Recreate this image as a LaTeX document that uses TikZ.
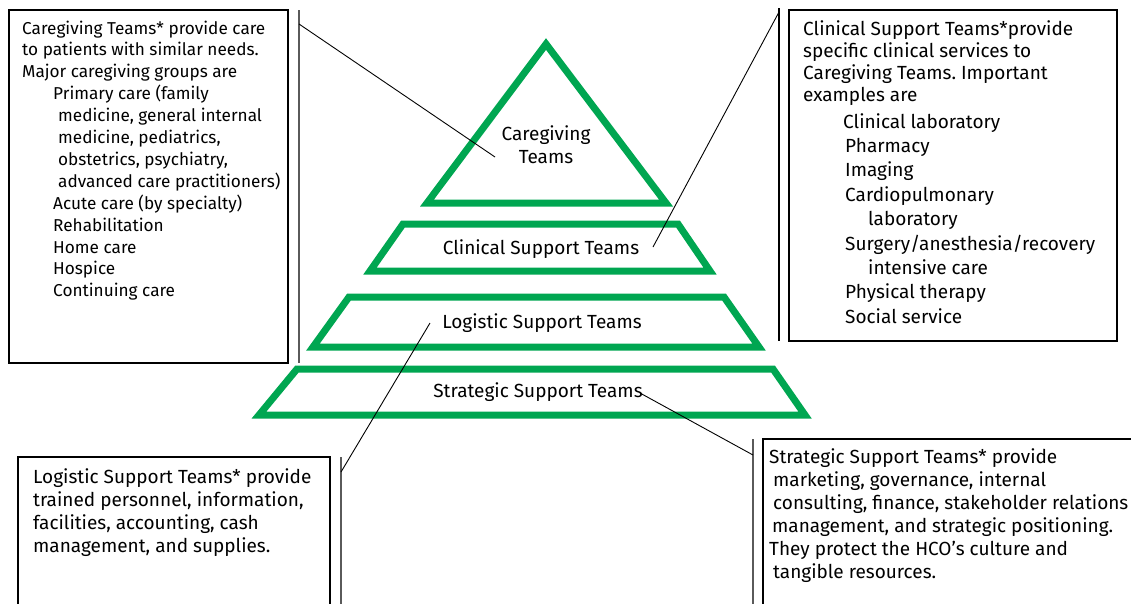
\documentclass[tikz,border=0pt]{standalone}
\usepackage{fontspec}
\setmainfont{Fira Sans}
\frenchspacing
\definecolor{hgreen}{RGB}{0,166,81}
\definecolor{divgray}{RGB}{90,90,90}
\tikzset{
  tier/.style={draw=hgreen, line width=7pt, line join=miter, miter limit=4},
  infobox/.style={draw=black, line width=1.1pt},
  divider/.style={draw=#1, line width=1.4pt},
  leader/.style={draw=black, line width=0.9pt},
  txt/.style={anchor=base west, inner sep=0pt, font=\fontsize{19}{#1}\selectfont},
  txtsmall/.style={anchor=base west, inner sep=0pt, font=\fontsize{17.2}{#1}\selectfont},
  lbl/.style={anchor=base, inner sep=0pt, font=\fontsize{19}{23}\selectfont},
}
\begin{document}
\begin{tikzpicture}[x=1pt, y=-1pt]
\useasboundingbox (0,0) rectangle (1131,603);
\clip (0,0) rectangle (1131,603);

% pyramid
\draw[tier] (546,44) -- (666,203) -- (427,203) -- cycle;
\draw[tier] (403,224) -- (678,224) -- (710,271) -- (370,271) -- cycle;
\draw[tier] (349,297) -- (724,297) -- (759,347) -- (313,347) -- cycle;
\draw[tier] (297,369) -- (773,369) -- (805,415) -- (259,415) -- cycle;

\node[lbl] (cglbl) at (546,140) {\begin{tabular}[t]{@{}c@{}}Caregiving\\Teams\end{tabular}};
\node[lbl] (cslbl) at (541,254) {Clinical Support Teams};
\node[lbl] (lslbl) at (542,328) {Logistic Support Teams};
\node[lbl] (sslbl) at (538,397) {Strategic Support Teams};

% boxes
\draw[infobox] (9,10) rectangle (288,363);
\draw[infobox] (789,10) rectangle (1117,341);
\draw[infobox] (18,457) rectangle (330,620);
\draw[infobox] (763,439) rectangle (1140,620);

% dividers
\coordinate (d1t) at (299,10);  \coordinate (d1b) at (299,363);
\coordinate (d2t) at (779,8);   \coordinate (d2b) at (779,341);
\coordinate (d3t) at (341,457); \coordinate (d3b) at (341,620);
\coordinate (d4t) at (753,439); \coordinate (d4b) at (753,620);
\draw[divider=divgray] (d1t) -- (d1b);
\draw[divider=black] (d2t) -- (d2b);
\draw[divider=divgray] (d3t) -- (d3b);
\draw[divider=divgray] (d4t) -- (d4b);

% leaders
\coordinate (cgA) at (299,24);  \coordinate (cgB) at (495,157);
\coordinate (csA) at (779,12);  \coordinate (csB) at (653,247);
\coordinate (lsA) at (341,472); \coordinate (lsB) at (430,323);
\coordinate (ssA) at (753,455); \coordinate (ssB) at (640,393);
\draw[leader] (cgA) -- (cgB);
\draw[leader] (csA) -- (csB);
\draw[leader] (lsA) -- (lsB);
\draw[leader] (ssA) -- (ssB);

% texts
\node[txtsmall=21.9] (cgtxt) at (22,34) {\begin{tabular}[t]{@{}l@{}}
Caregiving Teams* provide care\\
to patients with similar needs.\\
Major caregiving groups are\\
\hspace*{31pt}Primary care (family\\
\hspace*{36pt}medicine, general internal\\
\hspace*{36pt}medicine, pediatrics,\\
\hspace*{36pt}obstetrics, psychiatry,\\
\hspace*{36pt}advanced care practitioners)\\
\hspace*{31pt}Acute care (by specialty)\\
\hspace*{31pt}Rehabilitation\\
\hspace*{31pt}Home care\\
\hspace*{31pt}Hospice\\
\hspace*{31pt}Continuing care
\end{tabular}};

\node[txt=22.3] (cstxt) at (803,35) {\begin{tabular}[t]{@{}l@{}}
Clinical Support Teams*provide\\
specific clinical services to\\
Caregiving Teams. Important\\
examples are
\end{tabular}};
\node[txt=24.4] (cslist) at (843,128) {\begin{tabular}[t]{@{}l@{}}
Clinical laboratory\\
\hspace*{2pt}Pharmacy\\
\hspace*{2pt}Imaging\\
\hspace*{2pt}Cardiopulmonary\\
\hspace*{25pt}laboratory\\
\hspace*{2pt}Surgery/anesthesia/recovery\\
\hspace*{25pt}intensive care\\
\hspace*{2pt}Physical therapy\\
\hspace*{2pt}Social service
\end{tabular}};

\node[txt=23] (lstxt) at (33,483) {\begin{tabular}[t]{@{}l@{}}
Logistic Support Teams* provide\\
trained personnel, information,\\
facilities, accounting, cash\\
management, and supplies.
\end{tabular}};

\node[txt=23] (sstxt) at (769,463) {\begin{tabular}[t]{@{}l@{}}
Strategic Support Teams* provide\\
\hspace*{4pt}marketing, governance, internal\\
\hspace*{4pt}consulting, finance, stakeholder relations\\
\hspace*{3pt}management, and strategic positioning.\\
They protect the HCO’s culture and\\
\hspace*{4pt}tangible resources.
\end{tabular}};
\end{tikzpicture}
\end{document}
